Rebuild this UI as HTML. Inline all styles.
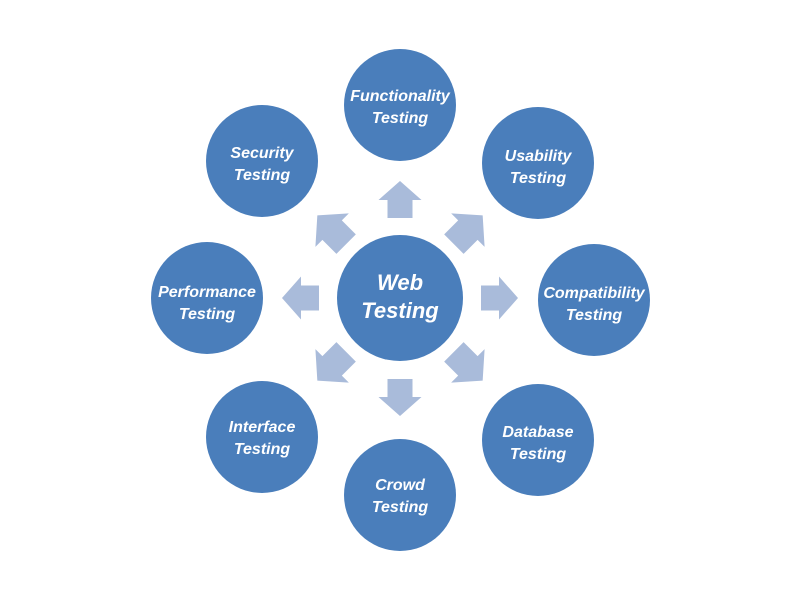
<!DOCTYPE html>
<html><head><style>
body{margin:0;background:#fff;}
svg{display:block}
text{font-family:"Liberation Sans",sans-serif;font-weight:bold;font-style:italic;fill:#fff;text-anchor:middle}
</style></head><body>
<svg width="800" height="600" viewBox="0 0 800 600">
<defs>
<polygon id="ar" points="0,-19 21.5,0 12.5,0 12.5,18 -12.5,18 -12.5,0 -21.5,0" fill="#a9bbda"/>
</defs>
<g transform="translate(400,298)">
<use href="#ar" transform="rotate(0) translate(0,-98)"/>
<use href="#ar" transform="rotate(45) translate(0,-96) scale(1.1)"/>
<use href="#ar" transform="rotate(90) translate(0,-99)"/>
<use href="#ar" transform="rotate(135) translate(0,-96) scale(1.1)"/>
<use href="#ar" transform="rotate(180) translate(0,-99)"/>
<use href="#ar" transform="rotate(225) translate(0,-96) scale(1.1)"/>
<use href="#ar" transform="rotate(270) translate(0,-99)"/>
<use href="#ar" transform="rotate(315) translate(0,-96) scale(1.1)"/>
</g>
<g fill="#4a7ebb">
<circle cx="400" cy="298" r="63"/>
<circle cx="400" cy="105" r="56"/>
<circle cx="538" cy="163" r="56"/>
<circle cx="594" cy="300" r="56"/>
<circle cx="538" cy="440" r="56"/>
<circle cx="400" cy="495" r="56"/>
<circle cx="262" cy="437" r="56"/>
<circle cx="207" cy="298" r="56"/>
<circle cx="262" cy="161" r="56"/>
</g>
<text x="400" y="290" font-size="22">Web</text>
<text x="400" y="318" font-size="22">Testing</text>
<g font-size="16">
<text x="400" y="101">Functionality</text><text x="400" y="123">Testing</text>
<text x="538" y="161">Usability</text><text x="538" y="183">Testing</text>
<text x="594" y="298">Compatibility</text><text x="594" y="320">Testing</text>
<text x="538" y="437">Database</text><text x="538" y="459">Testing</text>
<text x="400" y="490">Crowd</text><text x="400" y="512">Testing</text>
<text x="262" y="432">Interface</text><text x="262" y="454">Testing</text>
<text x="207" y="297">Performance</text><text x="207" y="319">Testing</text>
<text x="262" y="158">Security</text><text x="262" y="180">Testing</text>
</g>
</svg>
</body></html>
